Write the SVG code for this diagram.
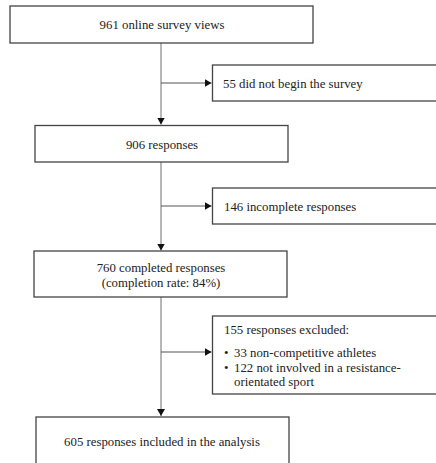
<svg xmlns="http://www.w3.org/2000/svg" width="436" height="463" viewBox="0 0 436 463">
<defs>
<style>
.box{fill:#fff;stroke:#444;stroke-width:1.3}
.t{font-family:"Liberation Serif","Times New Roman",serif;font-size:12.8px;fill:#222}
.c{text-anchor:middle}
.v{stroke:#999;stroke-width:1.4;fill:none}
.h{stroke:#555;stroke-width:1.1;fill:none}
</style>
<marker id="ah" markerWidth="8" markerHeight="8" refX="7" refY="4" orient="auto" markerUnits="userSpaceOnUse">
<path d="M0,0 L7,4 L0,8 Z" fill="#111"/>
</marker>
</defs>
<rect width="436" height="463" fill="#fff"/>
<g id="connectors">
<line class="v" x1="161" y1="43" x2="161" y2="124.5" marker-end="url(#ah)"/>
<line class="h" x1="161" y1="83" x2="211.5" y2="83" marker-end="url(#ah)"/>
<line class="v" x1="161" y1="162" x2="161" y2="250.5" marker-end="url(#ah)"/>
<line class="h" x1="161" y1="206" x2="211.5" y2="206" marker-end="url(#ah)"/>
<line class="v" x1="161" y1="297" x2="161" y2="416" marker-end="url(#ah)"/>
<line class="h" x1="161" y1="352" x2="211.5" y2="352" marker-end="url(#ah)"/>
</g>
<g id="n1">
<rect class="box" x="10" y="6" width="303" height="37"/>
<text class="t c" x="162" y="29">961 online survey views</text>
</g>
<g id="n2">
<rect class="box" x="212.5" y="65" width="230" height="36"/>
<text class="t" x="223" y="88">55 did not begin the survey</text>
</g>
<g id="n3">
<rect class="box" x="35" y="125.5" width="253" height="36.5"/>
<text class="t c" x="162" y="149">906 responses</text>
</g>
<g id="n4">
<rect class="box" x="212.5" y="188" width="230" height="36"/>
<text class="t" x="224" y="211">146 incomplete responses</text>
</g>
<g id="n5">
<rect class="box" x="34" y="251" width="253" height="46"/>
<text class="t c" x="161" y="271.5">760 completed responses</text>
<text class="t c" x="161" y="287">(completion rate: 84%)</text>
</g>
<g id="n6">
<rect class="box" x="212.5" y="316" width="230" height="78"/>
<text class="t" x="224" y="333.5">155 responses excluded:</text>
<text class="t" x="224" y="356.5">•</text>
<text class="t" x="234" y="356.5">33 non-competitive athletes</text>
<text class="t" x="224" y="371.5">•</text>
<text class="t" x="234" y="371.5">122 not involved in a resistance-</text>
<text class="t" x="234" y="385.5">orientated sport</text>
</g>
<g id="n7">
<rect class="box" x="36" y="417" width="253" height="60"/>
<text class="t c" x="162" y="446">605 responses included in the analysis</text>
</g>
</svg>
